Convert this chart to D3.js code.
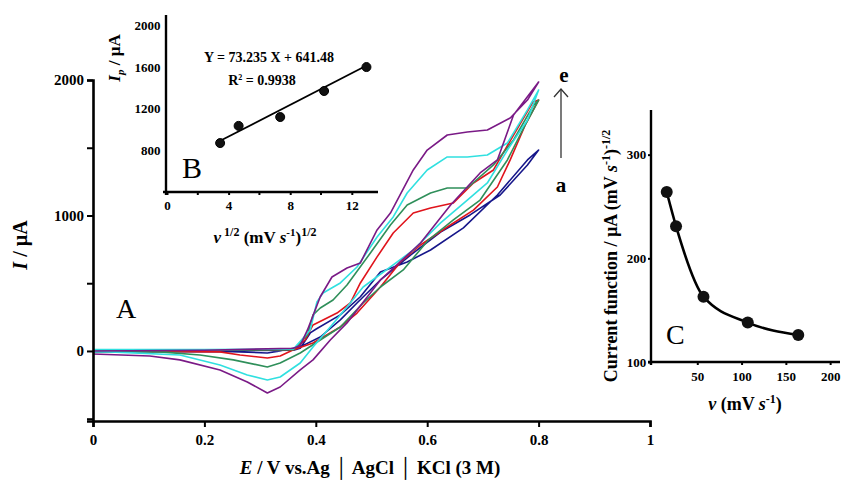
<!DOCTYPE html>
<html>
<head>
<meta charset="utf-8">
<script src="https://cdn.jsdelivr.net/npm/d3@7"></script>
<style>
  body { margin: 0; background: #fff; }
  svg { font-family: "Liberation Serif", "Times New Roman", serif; }
  .tick text { font-weight: bold; }
</style>
</head>
<body>
<svg id="chart"></svg>
<script>
// main CV curves, [E (V), I (uA)] : forward scan then reverse scan
const cvA = [[0,0],[0.2,3],[0.36,5],[0.372,20],[0.39,133],[0.4,160],[0.444,266],[0.48,400],[0.516,583],[0.564,657],[0.606,745],[0.665,908],[0.726,1151],[0.78,1410],[0.8,1483],
  [0.78,1373],[0.731,1151],[0.677,1004],[0.624,878],[0.57,708],[0.516,524],[0.474,354],[0.444,229],[0.408,103],[0.372,30],[0.336,0],[0.313,-15],[0.25,-5],[0,-5]];
const cvB = [[0,5],[0.2,8],[0.36,10],[0.381,81],[0.395,192],[0.413,229],[0.438,280],[0.462,354],[0.48,502],[0.51,694],[0.539,871],[0.575,1018],[0.606,1055],[0.647,1092],[0.683,1240],[0.719,1336],[0.755,1594],[0.79,1838],[0.8,1852],
  [0.776,1668],[0.749,1410],[0.726,1210],[0.683,1040],[0.636,915],[0.588,782],[0.552,657],[0.516,472],[0.474,280],[0.444,177],[0.395,59],[0.359,7],[0.336,-37],[0.313,-52],[0.264,-30],[0.228,-7],[0,0]];
const cvC = [[0,0],[0.2,5],[0.36,10],[0.385,120],[0.395,266],[0.408,317],[0.431,376],[0.456,487],[0.498,723],[0.534,930],[0.564,1077],[0.606,1166],[0.636,1203],[0.672,1203],[0.719,1373],[0.755,1557],[0.791,1815],[0.8,1852],
  [0.776,1668],[0.744,1410],[0.695,1114],[0.647,967],[0.602,819],[0.557,598],[0.516,472],[0.485,354],[0.444,177],[0.408,81],[0.372,-15],[0.336,-89],[0.313,-118],[0.252,-66],[0.192,-30],[0.12,-7],[0,-5]];
const cvD = [[0,10],[0.2,10],[0.36,15],[0.39,155],[0.402,362],[0.413,428],[0.444,502],[0.474,620],[0.51,841],[0.539,989],[0.564,1166],[0.6,1336],[0.636,1432],[0.672,1432],[0.708,1446],[0.744,1535],[0.78,1779],[0.8,1926],
  [0.78,1705],[0.744,1483],[0.708,1240],[0.672,1114],[0.624,945],[0.575,745],[0.534,620],[0.485,472],[0.456,325],[0.426,177],[0.395,30],[0.372,-89],[0.336,-192],[0.313,-214],[0.277,-177],[0.228,-103],[0.156,-30],[0.03,-7],[0,-5]];
const cvE = [[0,0],[0.2,5],[0.36,20],[0.372,40],[0.385,155],[0.394,250],[0.408,400],[0.429,546],[0.456,612],[0.48,650],[0.51,893],[0.534,1018],[0.575,1336],[0.6,1483],[0.636,1594],[0.672,1616],[0.708,1631],[0.749,1720],[0.78,1852],[0.8,1985],
  [0.755,1742],[0.726,1410],[0.695,1314],[0.642,1077],[0.588,797],[0.516,524],[0.456,207],[0.426,81],[0.395,-66],[0.372,-140],[0.336,-266],[0.313,-310],[0.277,-229],[0.228,-140],[0.156,-66],[0.102,-37],[0,-22]];
const curves = [cvA, cvB, cvC, cvD, cvE];
const curveColors = ["#16168a", "#e0141c", "#2f8f5a", "#30e0e0", "#7a1a86"];

const xTicksMain = [0, 0.2, 0.4, 0.6, 0.8, 1];
const yTicksMain = [-500, 0, 500, 1000, 1500, 2000];
const yLabelsMain = [0, 1000, 2000];

// inset B: Ip vs sqrt(scan rate)
const bX = [3.45, 4.65, 7.35, 10.2, 12.95];
const bY = [870, 1035, 1120, 1370, 1600];
const bFitX = [3.3, 12.9];
const bFitY = [880, 1610];
const bYTicks = [800, 1200, 1600, 2000];
const bXTicks = [0, 4, 8, 12];
const bXMinor = [2, 6, 10];

// inset C: current function vs scan rate
const cX = [15.5, 26, 57, 107, 164];
const cY = [264, 231, 163, 138, 126];
const cYTicks = [100, 200, 300];
const cXTicks = [50, 100, 150, 200];

const W = 846, H = 482;
const svg = d3.select("#chart").attr("width", W).attr("height", H);

// ---------- main panel ----------
const x = d3.scaleLinear().domain([0, 1]).range([93, 650]);
const y = d3.scaleLinear().domain([-517, 2000]).range([421, 80]);

const line = d3.line().x(d => x(d[0])).y(d => y(d[1]));

svg.append("g").selectAll("path")
  .data(curves)
  .enter()
  .append("path")
  .attr("d", d => line(d))
  .attr("fill", "none")
  .attr("stroke", (d, i) => curveColors[i])
  .attr("stroke-width", 1.6)
  .attr("stroke-linejoin", "round");

const xAxis = d3.axisBottom(x).tickValues(xTicksMain).tickSize(6)
  .tickFormat(d => d === 0 ? "0" : d === 1 ? "1" : d3.format(".1f")(d));
const gx = svg.append("g").attr("transform", "translate(0," + 421 + ")").call(xAxis);
gx.selectAll("text").attr("font-size", 15).attr("dy", "1.0em");

const yAxis = d3.axisLeft(y).tickValues(yTicksMain).tickSize(6)
  .tickFormat(d => yLabelsMain.includes(d) ? d : "");
const gy = svg.append("g").attr("transform", "translate(" + 93 + ",0)").call(yAxis);
gy.selectAll("text").attr("font-size", 15);

[gx, gy].forEach(g => {
  g.select(".domain").attr("stroke-width", 2.6);
  g.selectAll(".tick line").attr("stroke-width", 2);
  g.selectAll("text").attr("fill", "#000").attr("font-family", "Liberation Serif");
});

svg.append("text")
  .attr("transform", "translate(27,245) rotate(-90)")
  .attr("text-anchor", "middle").attr("font-size", 20).attr("font-weight", "bold")
  .html('<tspan font-style="italic">I</tspan> / µA');

svg.append("text")
  .attr("x", 370).attr("y", 474)
  .attr("text-anchor", "middle").attr("font-size", 19).attr("font-weight", "bold")
  .html('<tspan font-style="italic">E</tspan> / V vs.Ag │ AgCl │ KCl (3 M)');

svg.append("text").attr("x", 116).attr("y", 318).attr("font-size", 28).text("A");

// a -> e arrow
svg.append("line").attr("x1", 561).attr("x2", 561).attr("y1", 158).attr("y2", 89)
  .attr("stroke", "#333").attr("stroke-width", 1.3);
svg.append("path").attr("d", "M554,97 L561,89 L568,97")
  .attr("fill", "none").attr("stroke", "#333").attr("stroke-width", 1.3);
svg.append("text").attr("x", 564).attr("y", 82).attr("text-anchor", "middle")
  .attr("font-size", 21).attr("font-weight", "bold").text("e");
svg.append("text").attr("x", 561).attr("y", 192).attr("text-anchor", "middle")
  .attr("font-size", 21).attr("font-weight", "bold").text("a");

// ---------- inset B ----------
const bx = d3.scaleLinear().domain([0, 13.7]).range([167, 378]);
const by = d3.scaleLinear().domain([400, 2100]).range([192, 15]);

const gbx = svg.append("g").attr("transform", "translate(0,192)")
  .call(d3.axisBottom(bx).tickValues(bXTicks).tickSize(3).tickFormat(d3.format("d")));
gbx.select(".domain").attr("d", "M163,0H378");
gbx.selectAll("text").attr("font-size", 13).attr("dy", "0.9em");
svg.append("g").selectAll("line").data(bXMinor).enter().append("line")
  .attr("x1", d => bx(d)).attr("x2", d => bx(d)).attr("y1", 192).attr("y2", 195)
  .attr("stroke", "#000").attr("stroke-width", 2);

const gby = svg.append("g").attr("transform", "translate(166,0)")
  .call(d3.axisLeft(by).tickValues(bYTicks).tickSize(0).tickFormat(d3.format("d")));
gby.select(".domain").attr("d", "M0,15V195");
gby.selectAll("text").attr("font-size", 13).attr("dx", "-0.2em");

[gbx, gby].forEach(g => {
  g.select(".domain").attr("stroke-width", 2.4);
  g.selectAll(".tick line").attr("stroke-width", 2);
  g.selectAll("text").attr("fill", "#000").attr("font-family", "Liberation Serif");
});

svg.append("line")
  .attr("x1", bx(bFitX[0])).attr("y1", by(bFitY[0]))
  .attr("x2", bx(bFitX[1])).attr("y2", by(bFitY[1]))
  .attr("stroke", "#000").attr("stroke-width", 1.8);

svg.append("g").selectAll("circle")
  .data(bX).enter().append("circle")
  .attr("cx", d => bx(d)).attr("cy", (d, i) => by(bY[i]))
  .attr("r", 4.5).attr("fill", "#111").attr("stroke", "#000").attr("stroke-width", 1);

svg.append("text").attr("x", 269).attr("y", 62).attr("text-anchor", "middle")
  .attr("font-size", 14).attr("font-weight", "bold").text("Y = 73.235 X + 641.48");
svg.append("text").attr("x", 262).attr("y", 85).attr("text-anchor", "middle")
  .attr("font-size", 14).attr("font-weight", "bold")
  .html('R<tspan dy="-5" font-size="8">2</tspan><tspan dy="5"> = 0.9938</tspan>');

svg.append("text").attr("x", 182).attr("y", 178).attr("font-size", 30).text("B");

svg.append("text")
  .attr("transform", "translate(120,58) rotate(-90)")
  .attr("text-anchor", "middle").attr("font-size", 17).attr("font-weight", "bold")
  .html('<tspan font-style="italic">I</tspan><tspan font-style="italic" font-size="11" dy="4">p</tspan><tspan dy="-4"> / µA</tspan>');

svg.append("text").attr("x", 265).attr("y", 243).attr("text-anchor", "middle")
  .attr("font-size", 17).attr("font-weight", "bold")
  .html('<tspan font-style="italic">v</tspan><tspan font-size="12" dy="-7"> 1/2</tspan>' +
        '<tspan dy="7"> (mV </tspan><tspan font-style="italic">s</tspan>' +
        '<tspan font-size="11" dy="-7">-1</tspan><tspan dy="7">)</tspan><tspan font-size="12" dy="-7">1/2</tspan>');

// ---------- inset C ----------
const cx = d3.scaleLinear().domain([0, 210]).range([653, 839]);
const cy = d3.scaleLinear().domain([100, 345]).range([362, 108]);

const gcx = svg.append("g").attr("transform", "translate(0,362)")
  .call(d3.axisBottom(cx).tickValues(cXTicks).tickSize(3));
gcx.select(".domain").attr("d", "M648,0H840");
gcx.selectAll("text").attr("font-size", 13).attr("dy", "1.0em");

const gcy = svg.append("g").attr("transform", "translate(651,0)")
  .call(d3.axisLeft(cy).tickValues(cYTicks).tickSize(3));
gcy.select(".domain").attr("d", "M0,110V365");
gcy.selectAll("text").attr("font-size", 13).attr("dx", "0.1em");

[gcx, gcy].forEach(g => {
  g.select(".domain").attr("stroke-width", 2.4);
  g.selectAll(".tick line").attr("stroke-width", 2);
  g.selectAll("text").attr("fill", "#000").attr("font-family", "Liberation Serif");
});

const cLine = d3.line().x((d, i) => cx(d)).y((d, i) => cy(cY[i])).curve(d3.curveMonotoneX);
svg.append("path").attr("d", cLine(cX))
  .attr("fill", "none").attr("stroke", "#000").attr("stroke-width", 2.6);

svg.append("g").selectAll("circle")
  .data(cX).enter().append("circle")
  .attr("cx", d => cx(d)).attr("cy", (d, i) => cy(cY[i]))
  .attr("r", 6).attr("fill", "#111");

svg.append("text").attr("x", 666).attr("y", 344).attr("font-size", 28).text("C");

svg.append("text")
  .attr("transform", "translate(617,256) rotate(-90)")
  .attr("text-anchor", "middle").attr("font-size", 18).attr("font-weight", "bold")
  .html('Current function / µA (mV <tspan font-style="italic">s</tspan>' +
        '<tspan font-size="12" dy="-7">-1</tspan><tspan dy="7">)</tspan><tspan font-size="12" dy="-7">-1/2</tspan>');

svg.append("text").attr("x", 745).attr("y", 410).attr("text-anchor", "middle")
  .attr("font-size", 18).attr("font-weight", "bold")
  .html('<tspan font-style="italic">v</tspan> (mV <tspan font-style="italic">s</tspan>' +
        '<tspan font-size="12" dy="-7">-1</tspan><tspan dy="7">)</tspan>');
</script>
</body>
</html>
